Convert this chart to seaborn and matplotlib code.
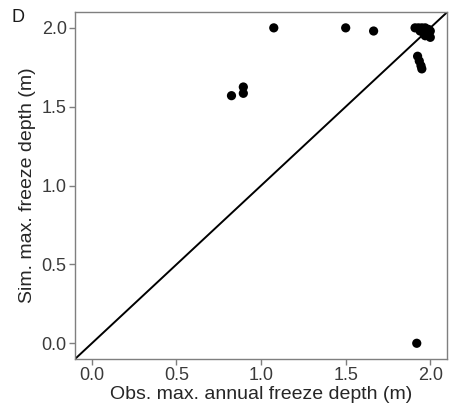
import numpy as np
import pandas as pd
import matplotlib
matplotlib.use("Agg")
import matplotlib.pyplot as plt
import seaborn as sns

# observed vs simulated max. freeze depth (m)
obs = [1.92, 1.075, 1.50, 1.665, 0.825, 0.895, 0.895,
       1.91, 1.93, 1.95, 1.97, 1.99, 2.00, 1.94, 1.96, 1.98, 2.00, 1.97,
       1.925, 1.935, 1.945, 1.95]
sim = [0.00, 2.00, 2.00, 1.98, 1.57, 1.625, 1.585,
       2.00, 2.00, 2.00, 2.00, 1.99, 1.98, 1.98, 1.97, 1.96, 1.94, 1.95,
       1.82, 1.79, 1.76, 1.74]
ticks = [0.0, 0.5, 1.0, 1.5, 2.0]
lims = (-0.1, 2.1)

df = pd.DataFrame({"obs": obs, "sim": sim})

sns.set_style("white")
plt.rcParams['font.family'] = ['Liberation Sans', 'DejaVu Sans']

fig = plt.figure(figsize=(4.49, 4.17), dpi=100)
ax = fig.add_axes([0.167, 0.139, 0.829, 0.832])

ax.plot(lims, lims, color="black", lw=1.4, zorder=1)
sns.scatterplot(data=df, x="obs", y="sim", color="black", s=44,
                edgecolor="none", ax=ax, zorder=2)

ax.set_xlim(lims)
ax.set_ylim(lims)
ax.set_xticks(ticks)
ax.set_yticks(ticks)
ax.set_xticklabels([f"{t:.1f}" for t in ticks])
ax.set_yticklabels([f"{t:.1f}" for t in ticks])
ax.tick_params(axis="both", direction="out", length=4, width=1,
               color="#7f7f7f", labelsize=13, labelcolor="#3a3a3a", pad=2,
               bottom=True, left=True)
for sp in ax.spines.values():
    sp.set_color("#7f7f7f")
    sp.set_linewidth(1)
    sp.set_visible(True)

ax.set_xlabel("Obs. max. annual freeze depth (m)", fontsize=14,
              color="#262626", labelpad=1)
ax.set_ylabel("Sim. max. freeze depth (m)", fontsize=14,
              color="#262626", labelpad=4)
fig.text(0.026, 0.957, "D", fontsize=13, color="#1a1a1a", va="center")

fig.savefig("out.png", dpi=100)
